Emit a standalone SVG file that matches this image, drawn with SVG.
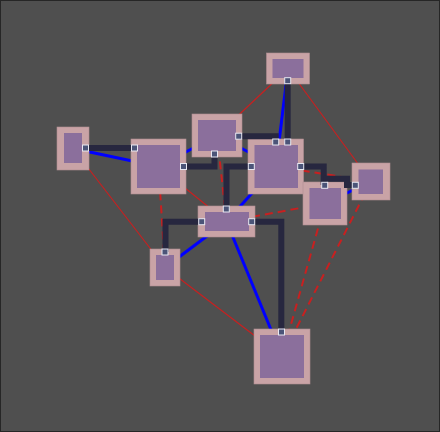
<svg xmlns="http://www.w3.org/2000/svg" width="440" height="432" viewBox="0 0 440 432">
<style>
.outer{fill:#c9a3a6;stroke:#b08e92;stroke-width:0.6}
.inner{fill:#8b6f9c}
.port{fill:#4b5478;stroke:#e8e8f2;stroke-width:1}
.dark{fill:none;stroke:#27273f;stroke-width:6;stroke-linejoin:miter;stroke-linecap:butt}
.blue{stroke:#0000ff;stroke-width:3}
.red{stroke:#c82020;stroke-width:1.2}
.reddash{stroke:#c82020;stroke-width:2;stroke-dasharray:8 5}
</style>
<rect x="0.5" y="0.5" width="439" height="431" fill="#4f4f4f" stroke="#262626" stroke-width="1"/>
<g id="connectors">
<g id="red-lines">
<line class="red" x1="73" y1="148.5" x2="165" y2="267.5"/>
<line class="red" x1="158.5" y1="166.5" x2="226.5" y2="221.5"/>
<line class="red" x1="217" y1="135.5" x2="288" y2="68.5"/>
<line class="red" x1="288" y1="68.5" x2="371" y2="181.5"/>
<line class="red" x1="165" y1="267.5" x2="282" y2="356.5"/>
<line class="reddash" x1="158.5" y1="166.5" x2="165" y2="267.5"/>
<line class="reddash" x1="217" y1="135.5" x2="226.5" y2="221.5"/>
<line class="reddash" x1="226.5" y1="221.5" x2="325" y2="203.5"/>
<line class="reddash" x1="276" y1="166.5" x2="371" y2="181.5"/>
<line class="reddash" x1="325" y1="203.5" x2="282" y2="356.5"/>
<line class="reddash" x1="371" y1="181.5" x2="282" y2="356.5"/>
</g>
<g id="blue-lines">
<line class="blue" x1="73" y1="148.5" x2="158.5" y2="166.5"/>
<line class="blue" x1="158.5" y1="166.5" x2="217" y2="135.5"/>
<line class="blue" x1="217" y1="135.5" x2="276" y2="166.5"/>
<line class="blue" x1="288" y1="68.5" x2="276" y2="166.5"/>
<line class="blue" x1="276" y1="166.5" x2="226.5" y2="221.5"/>
<line class="blue" x1="226.5" y1="221.5" x2="282" y2="356.5"/>
<line class="blue" x1="226.5" y1="221.5" x2="165" y2="267.5"/>
<line class="blue" x1="325" y1="203.5" x2="371" y2="181.5"/>
</g>
</g>
<g id="nodeA"><rect class="outer" x="57" y="127" width="32" height="43"/><rect class="inner" x="64" y="133" width="18" height="30"/></g>
<g id="nodeB"><rect class="outer" x="131" y="139" width="55" height="55"/><rect class="inner" x="137" y="145" width="43" height="43"/></g>
<g id="nodeC"><rect class="outer" x="192" y="114" width="50" height="43"/><rect class="inner" x="198" y="120" width="38" height="31"/></g>
<g id="nodeD"><rect class="outer" x="266.5" y="53" width="43" height="31"/><rect class="inner" x="272.5" y="59" width="31" height="19"/></g>
<g id="nodeE"><rect class="outer" x="248" y="139" width="55.5" height="55"/><rect class="inner" x="254.5" y="145" width="43.5" height="43"/></g>
<g id="nodeF"><rect class="outer" x="352" y="163" width="38" height="37"/><rect class="inner" x="358.5" y="169.5" width="24.5" height="24.5"/></g>
<g id="nodeG"><rect class="outer" x="303" y="182" width="44" height="43"/><rect class="inner" x="309.5" y="188" width="31.5" height="31"/></g>
<g id="nodeH"><rect class="outer" x="198" y="206" width="57" height="31"/><rect class="inner" x="205" y="212" width="44" height="19"/></g>
<g id="nodeI"><rect class="outer" x="150" y="249" width="30" height="37"/><rect class="inner" x="156" y="255" width="18" height="25"/></g>
<g id="nodeJ"><rect class="outer" x="254" y="329" width="56" height="55"/><rect class="inner" x="260" y="335" width="44" height="43"/></g>
<g id="dark-connectors">
<path class="dark" d="M85.5,148 H134.5"/>
<path class="dark" d="M183.5,166.5 H214.5 V154"/>
<path class="dark" d="M238.7,136.2 H275.7 V142"/>
<path class="dark" d="M287.7,80.7 V142"/>
<path class="dark" d="M251.3,166.5 H226.5 V209"/>
<path class="dark" d="M300.7,166.5 H323.7 V185"/>
<path class="dark" d="M323.7,178.7 H347 V185 H355.3"/>
<path class="dark" d="M201.7,221.7 H165.5 V252"/>
<path class="dark" d="M251.7,221.7 H281.3 V332"/>
</g>
<g id="ports">
<rect class="port" x="82.5" y="145" width="6" height="6"/>
<rect class="port" x="131.5" y="145" width="6" height="6"/>
<rect class="port" x="180.5" y="163.5" width="6" height="6"/>
<rect class="port" x="235.7" y="133.2" width="6" height="6"/>
<rect class="port" x="211.5" y="151" width="6" height="6"/>
<rect class="port" x="284.7" y="77.7" width="6" height="6"/>
<rect class="port" x="272.7" y="139" width="6" height="6"/>
<rect class="port" x="284.7" y="139" width="6" height="6"/>
<rect class="port" x="248.3" y="163.5" width="6" height="6"/>
<rect class="port" x="297.7" y="163.5" width="6" height="6"/>
<rect class="port" x="321.7" y="182.3" width="6" height="6"/>
<rect class="port" x="352.3" y="182.3" width="6" height="6"/>
<rect class="port" x="223.3" y="206" width="6" height="6"/>
<rect class="port" x="198.7" y="218.7" width="6" height="6"/>
<rect class="port" x="248.7" y="218.7" width="6" height="6"/>
<rect class="port" x="162" y="249" width="6" height="6"/>
<rect class="port" x="278.5" y="329" width="6" height="6"/>
</g>
</svg>
